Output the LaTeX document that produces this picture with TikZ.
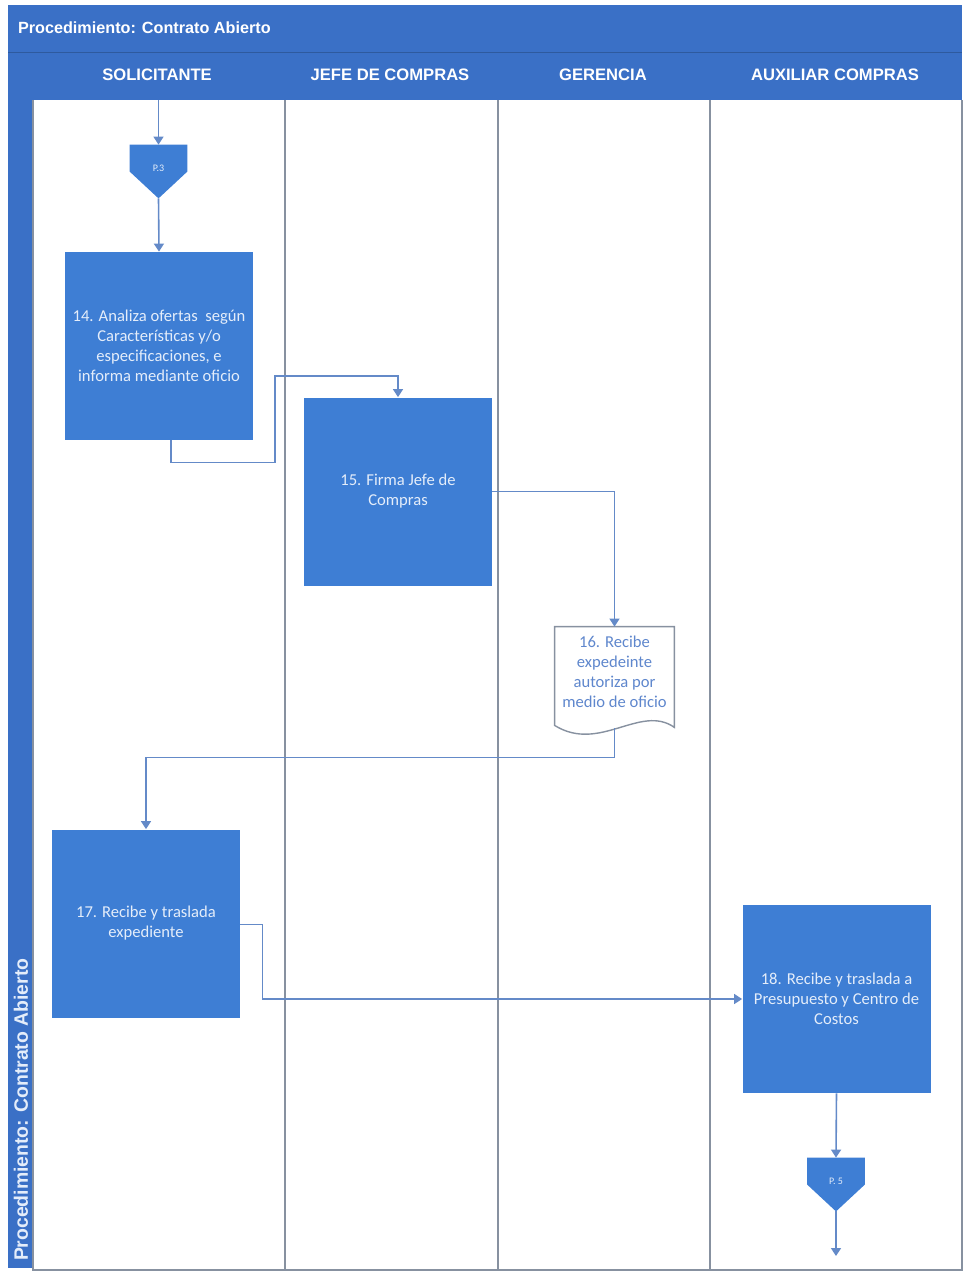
\documentclass[tikz,border=0pt]{standalone}
\usepackage{fontspec}
\setmainfont{Carlito}
\newfontfamily\hdrfont{Liberation Sans}
\usetikzlibrary{arrows.meta,positioning,calc,backgrounds}
\definecolor{BarBlue}{RGB}{58,112,198}
\definecolor{BoxBlue}{RGB}{62,126,212}
\definecolor{LineBlue}{RGB}{100,138,200}
\definecolor{LaneGray}{RGB}{135,145,160}
\definecolor{DocText}{RGB}{95,135,205}
\definecolor{BoxText}{RGB}{228,237,250}

\begin{document}
\begin{tikzpicture}[x=0.5pt, y=-0.5pt,
  taskbox/.style={rectangle, fill=BoxBlue, minimum width=94pt, minimum height=94pt, inner sep=0pt,
              align=center, text=BoxText, font=\fontsize{8.3}{10}\selectfont},
  docbox/.style={rectangle, minimum width=59.5pt, minimum height=45pt, inner sep=0pt,
              align=center, text=DocText, font=\fontsize{8.3}{10}\selectfont},
  offpage/.style={rectangle, minimum width=28.5pt, minimum height=26.5pt, inner sep=0pt,
              text=BoxText, font=\fontsize{5}{6}\selectfont},
  header/.style={font=\hdrfont\bfseries\fontsize{8.3}{10}\selectfont, text=white},
  lane/.style={draw=LaneGray, line width=0.6pt},
  arrow/.style={-{Triangle[length=4pt,width=5pt]}, LineBlue, line width=0.8pt}
]
\useasboundingbox (0,0) rectangle (965,1276);
\fill[BarBlue] (8,5) rectangle (962,100);
\fill[BarBlue] (8,100) rectangle (33,1268);
\draw[BarBlue!80!black, line width=0.4pt] (8,52) -- (962,52);
\draw[lane] (33,100) -- (33,1270) -- (962,1270) -- (962,100);
\foreach \x in {285,498,710} \draw[lane] (\x,100) -- (\x,1270);

\node[header, anchor=west, font=\hdrfont\bfseries\fontsize{8.1}{9}\selectfont] (title) at (11,28) {Procedimiento: Contrato Abierto};
\node[header, anchor=west, rotate=90, text=BoxText, font=\hdrfont\bfseries\fontsize{9.7}{10}\selectfont] (side) at (21,1268) {Procedimiento: Contrato Abierto};
\node[header] (hS) at (157,75) {SOLICITANTE};
\node[header] (hJ) at (390,75) {JEFE DE COMPRAS};
\node[header] (hG) at (603,75) {GERENCIA};
\node[header] (hA) at (835,75) {AUXILIAR COMPRAS};

\node[offpage] (P3) at (158.5,171.5) {\raisebox{3pt}{P.3}};
\node[taskbox] (S14) at (159,346) {14. Analiza ofertas\ \ según\\Características y/o\\especificaciones, e\\informa mediante oficio};
\node[taskbox] (J15) at (398,491.5) {15. Firma Jefe de\\Compras};
\node[docbox] (G16) at (614.5,672) {16. Recibe\\expedeinte\\autoriza por\\medio de oficio};
\node[taskbox] (S17) at (146,923.5) {17. Recibe y traslada\\expediente};
\node[taskbox] (A18) at (836.5,999) {18. Recibe y traslada a\\Presupuesto y Centro de\\Costos};
\node[offpage] (P5) at (836,1184.5) {\raisebox{3pt}{P. 5}};
\coordinate (start) at (158.5,100);
\coordinate (finish) at (836,1256);

\begin{scope}[on background layer]
\foreach \p in {P3,P5}
  \fill[BoxBlue] (\p.north west) -- (\p.north east) -- (\p.east) -- (\p.south) -- (\p.west) -- cycle;
\filldraw[fill=white, draw=LaneGray, line width=0.7pt] (G16.north west) -- (G16.north east)
  -- ($(G16.south east)+(0,10)$) .. controls ($(G16.south east)+(-34,-14)$) and ($(G16.south west)+(45,36)$) .. ($(G16.south west)+(0,8)$) -- cycle;
\end{scope}

\draw[arrow] (start) -- (P3.north);
\draw[arrow] (P3.south) -- (S14.north);
\draw[arrow] ($(S14.south)+(12,0)$) -- ++(0,22) -| (275,376) -| (J15.north);
\draw[arrow] (J15.east) -| (G16.north);
\draw[arrow] ($(G16.south)+(0,11)$) -- ++(0,29) -| (S17.north);
\draw[arrow] ($(S17.east)+(0,1)$) -- ++(22,0) |- (A18.west);
\draw[arrow] (A18.south) -- (P5.north);
\draw[arrow] (P5.south) -- (finish);
\end{tikzpicture}
\end{document}
